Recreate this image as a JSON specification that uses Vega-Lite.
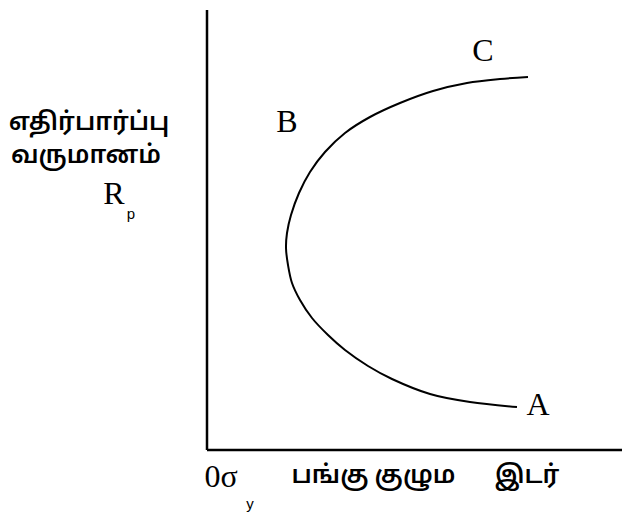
{
  "$schema": "https://vega.github.io/schema/vega-lite/v6.json",
  "width": 632,
  "height": 513,
  "autosize": {"type": "fit", "contains": "padding"},
  "padding": 0,
  "background": "white",
  "config": {"view": {"stroke": null}},
  "datasets": {
    "axes": [
      {"x": 0, "y": 440, "x2": 0, "y2": 0},
      {"x": 0, "y": 0, "x2": 415, "y2": 0}
    ],
    "curve": [
      {"i": 1, "risk": 321, "ret": 373},
      {"i": 2, "risk": 293, "ret": 371},
      {"i": 3, "risk": 260, "ret": 367},
      {"i": 4, "risk": 226, "ret": 359},
      {"i": 5, "risk": 193, "ret": 347},
      {"i": 6, "risk": 163, "ret": 333},
      {"i": 7, "risk": 138, "ret": 317},
      {"i": 8, "risk": 118, "ret": 298},
      {"i": 9, "risk": 103, "ret": 278},
      {"i": 10, "risk": 92, "ret": 257},
      {"i": 11, "risk": 84, "ret": 235},
      {"i": 12, "risk": 80, "ret": 217},
      {"i": 13, "risk": 79, "ret": 202},
      {"i": 14, "risk": 81, "ret": 185},
      {"i": 15, "risk": 85, "ret": 167},
      {"i": 16, "risk": 93, "ret": 150},
      {"i": 17, "risk": 105, "ret": 132},
      {"i": 18, "risk": 121, "ret": 115},
      {"i": 19, "risk": 138, "ret": 100},
      {"i": 20, "risk": 161, "ret": 84},
      {"i": 21, "risk": 185, "ret": 71},
      {"i": 22, "risk": 223, "ret": 56},
      {"i": 23, "risk": 263, "ret": 48},
      {"i": 24, "risk": 310, "ret": 43}
    ],
    "points": [
      {"label": "C", "x": 276, "y": 399},
      {"label": "B", "x": 80, "y": 328},
      {"label": "A", "x": 331, "y": 45},
      {"label": "R", "x": -93, "y": 256},
      {"label": "0σ", "x": 14, "y": -27}
    ],
    "subs": [
      {"label": "p", "x": -76, "y": 236},
      {"label": "y", "x": 43, "y": -54}
    ],
    "tamil": [
      {"label": "எதிர்பார்ப்பு", "x": -118, "y": 328},
      {"label": "வருமானம்", "x": -121, "y": 295},
      {"label": "பங்கு", "x": 123, "y": -25},
      {"label": "குழும", "x": 208, "y": -25},
      {"label": "இடர்", "x": 320, "y": -25}
    ]
  },
  "layer": [
    {
      "data": {"name": "axes"},
      "mark": {"type": "rule", "color": "black", "strokeWidth": 2.5},
      "encoding": {
        "x": {"field": "x", "type": "quantitative", "scale": {"domain": [-207, 425]}, "axis": null},
        "y": {"field": "y", "type": "quantitative", "scale": {"domain": [-63, 450]}, "axis": null},
        "x2": {"field": "x2"},
        "y2": {"field": "y2"}
      }
    },
    {
      "data": {"name": "curve"},
      "mark": {"type": "line", "color": "black", "strokeWidth": 2, "interpolate": "catmull-rom"},
      "encoding": {
        "x": {"field": "risk", "type": "quantitative", "scale": {"domain": [-207, 425]}, "axis": null},
        "y": {"field": "ret", "type": "quantitative", "scale": {"domain": [-63, 450]}, "axis": null},
        "order": {"field": "i", "type": "quantitative"}
      }
    },
    {
      "data": {"name": "points"},
      "mark": {"type": "text", "font": "Liberation Serif", "fontSize": 32, "color": "black", "align": "center", "baseline": "middle"},
      "encoding": {
        "x": {"field": "x", "type": "quantitative", "scale": {"domain": [-207, 425]}, "axis": null},
        "y": {"field": "y", "type": "quantitative", "scale": {"domain": [-63, 450]}, "axis": null},
        "text": {"field": "label"}
      }
    },
    {
      "data": {"name": "subs"},
      "mark": {"type": "text", "font": "Liberation Sans", "fontSize": 15, "color": "black", "align": "center", "baseline": "middle"},
      "encoding": {
        "x": {"field": "x", "type": "quantitative", "scale": {"domain": [-207, 425]}, "axis": null},
        "y": {"field": "y", "type": "quantitative", "scale": {"domain": [-63, 450]}, "axis": null},
        "text": {"field": "label"}
      }
    },
    {
      "data": {"name": "tamil"},
      "mark": {"type": "text", "font": "Noto Sans Tamil, Noto Sans, sans-serif", "fontSize": 25, "fontWeight": 600, "color": "black", "align": "center", "baseline": "middle"},
      "encoding": {
        "x": {"field": "x", "type": "quantitative", "scale": {"domain": [-207, 425]}, "axis": null},
        "y": {"field": "y", "type": "quantitative", "scale": {"domain": [-63, 450]}, "axis": null},
        "text": {"field": "label"}
      }
    }
  ]
}
